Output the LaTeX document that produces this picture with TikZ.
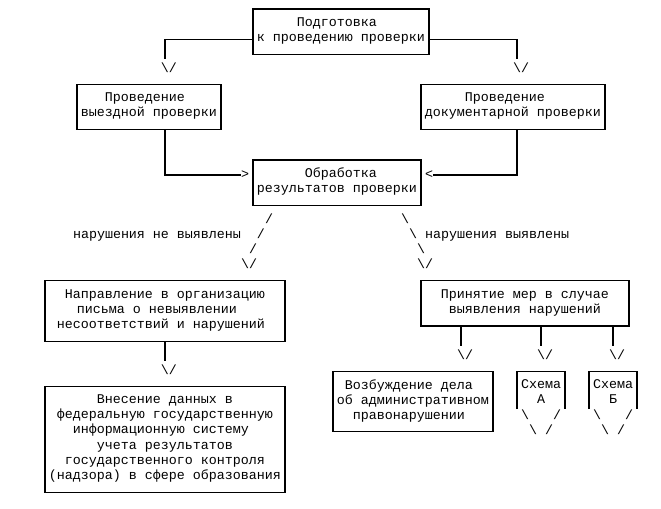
\documentclass[tikz,border=0pt]{standalone}
\usepackage{fontspec}
\setmainfont{Liberation Mono}[WordSpace={1,0,0}]
\frenchspacing
\newcommand\phx{\phantom{x}}
\newcommand\bsl{\textbackslash}
\begin{document}
\begin{tikzpicture}[x=0.75pt,y=-0.75pt,
  txt/.style={inner sep=0pt, outer sep=0pt, font=\fontsize{10}{11.325}\selectfont,
    execute at begin node=\strut, execute at end node=\strut},
  box/.style={txt, draw, line width=1pt, align=center},
  ln/.style={line width=1pt}]
\useasboundingbox (0,0) rectangle (661,509);
\fill[white] (0,0) rectangle (661,509);

% boxes
\node[box, minimum width=132pt, minimum height=33.975pt] (prep) at (341,31.65) {Подготовка\phx\\к проведению проверки};
\node[box, minimum width=108pt, minimum height=33.975pt] (visit) at (149,107.15) {Проведение\phx\\выездной проверки};
\node[box, minimum width=138pt, minimum height=33.975pt] (docs) at (513,107.15) {Проведение\phx\phx\\документарной проверки};
\node[box, minimum width=126pt, minimum height=33.975pt] (proc) at (337,182.65) {\phx Обработка\\результатов проверки};
\node[box, minimum width=180pt, minimum height=45.3pt] (letter) at (165,311) {Направление в организацию\\письма о невыявлении\phx\phx\\несоответствий и нарушений\phx};
\node[box, minimum width=180pt, minimum height=79.275pt] (fis) at (165,439.35) {Внесение данных в\\федеральную государственную\\информационную систему\phx\\учета результатов\\государственного контроля\\(надзора) в сфере образования};
\node[box, minimum width=156pt, minimum height=33.975pt] (measures) at (525,303.45) {Принятие мер в случае\\выявления нарушений};
\node[box, minimum width=120pt, minimum height=45.3pt] (case) at (413,401.6) {Возбуждение дела\phx\\об административном\\правонарушении\phx};
\node[txt, align=center, minimum width=36pt] (schA) at (541,394.05) {Схема\\А};
\node[txt, align=center, minimum width=36pt] (schB) at (613,394.05) {Схема\\Б};
\draw[ln] ([yshift=-11.36pt]schA.west) |- ([yshift=16.99pt]schA.east) -- ([yshift=-11.36pt]schA.east);
\draw[ln] ([yshift=-11.36pt]schB.west) |- ([yshift=16.99pt]schB.east) -- ([yshift=-11.36pt]schB.east);
\node[txt] (vA1) at (541,416.7) {\bsl\hspace{18pt}/};
\node[txt] (vA2) at (541,431.8) {\bsl\hspace{6pt}/};
\node[txt] (vB1) at (613,416.7) {\bsl\hspace{18pt}/};
\node[txt] (vB2) at (613,431.8) {\bsl\hspace{6pt}/};

% top connectors
\coordinate (r2) at (0,39.2);
\coordinate (endTL) at (165,59.3);
\coordinate (endTR) at (517,59.3);
\draw[ln] (prep.west |- r2) -| (endTL);
\draw[ln] (prep.east |- r2) -| (endTR);
\node[txt] (arTL) at (169,69.4) {\bsl/};
\node[txt] (arTR) at (521,69.4) {\bsl/};

% into processing
\node[txt] (gt) at (245,175.1) {>};
\node[txt] (lt) at (429,175.1) {<};
\draw[ln] (visit.south -| endTL) |- (gt.west);
\draw[ln] (docs.south -| endTR) |- (lt.east);

% branches
\node[txt] (s1) at (269,220.4) {/};
\node[txt, anchor=west] (noviol) at (73,235.5) {нарушения не выявлены\hspace{12pt}/};
\node[txt] (s3) at (253,250.6) {/};
\node[txt] (s4) at (249,265.7) {\bsl/};
\node[txt] (s5) at (405,220.4) {\bsl};
\node[txt, anchor=west] (viol) at (409,235.5) {\bsl{} нарушения выявлены};
\node[txt] (s7) at (421,250.6) {\bsl};
\node[txt] (s8) at (425,265.7) {\bsl/};

% lower connectors
\coordinate (endL) at (165,361.5);
\draw[ln] (letter.south) -- (endL);
\node[txt] (arL) at (169,371.4) {\bsl/};
\coordinate (e1) at (461,346.5);
\coordinate (e2) at (541,346.5);
\coordinate (e3) at (613,346.5);
\draw[ln] (measures.south -| e1) -- (e1);
\draw[ln] (measures.south -| e2) -- (e2);
\draw[ln] (measures.south -| e3) -- (e3);
\node[txt] (ar1) at (465,356.3) {\bsl/};
\node[txt] (ar2) at (545,356.3) {\bsl/};
\node[txt] (ar3) at (617,356.3) {\bsl/};
\end{tikzpicture}
\end{document}
